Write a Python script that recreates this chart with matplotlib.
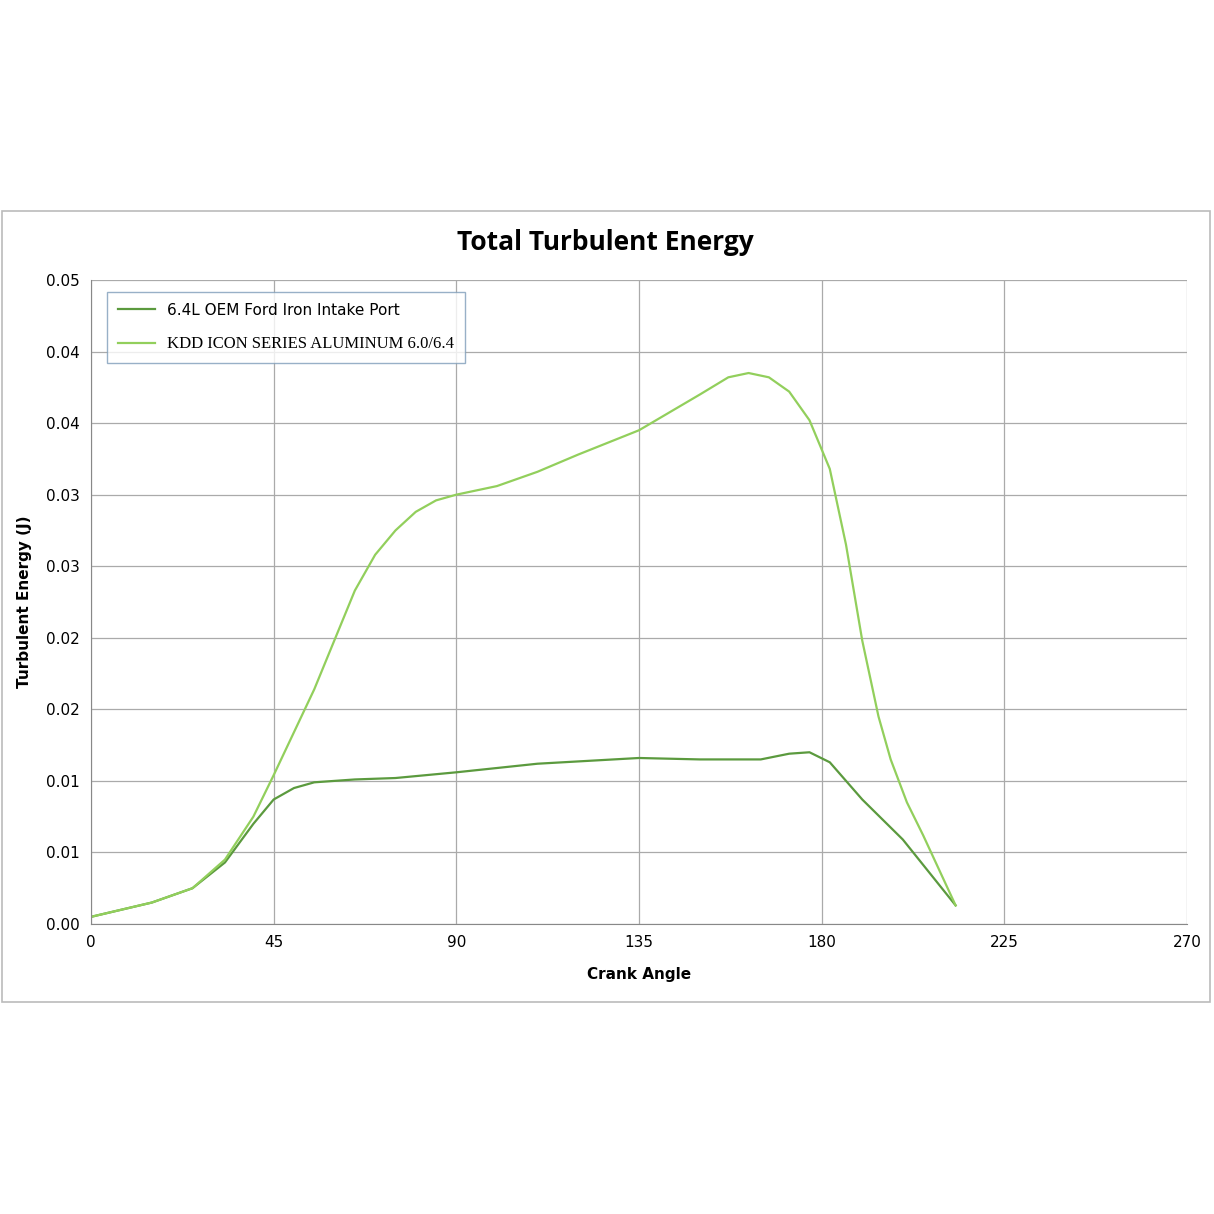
import matplotlib.pyplot as plt
from matplotlib.patches import Rectangle

# crank angle / turbulent energy
oem_x = [0, 15, 25, 33, 40, 45, 50, 55, 65, 75, 90, 110, 135, 150, 165, 172, 177, 182, 190, 200, 213]
oem_y = [0.0005, 0.0015, 0.0025, 0.0043, 0.0070, 0.0087, 0.0095, 0.0099, 0.0101, 0.0102, 0.0106,
         0.0112, 0.0116, 0.0115, 0.0115, 0.0119, 0.0120, 0.0113, 0.0087, 0.0059, 0.0013]
kdd_x = [0, 15, 25, 33, 40, 45, 55, 65, 70, 75, 80, 85, 90, 100, 110, 120, 135, 150, 157, 162,
         167, 172, 177, 182, 186, 190, 194, 197, 201, 205, 213]
kdd_y = [0.0005, 0.0015, 0.0025, 0.0045, 0.0075, 0.0104, 0.0164, 0.0233, 0.0258, 0.0275, 0.0288,
         0.0296, 0.0300, 0.0306, 0.0316, 0.0328, 0.0345, 0.0370, 0.0382, 0.0385, 0.0382, 0.0372,
         0.0352, 0.0318, 0.0265, 0.0198, 0.0145, 0.0115, 0.0085, 0.0062, 0.0013]
x_ticks = [0, 45, 90, 135, 180, 225, 270]
y_ticks = [0, 0.005, 0.01, 0.015, 0.02, 0.025, 0.03, 0.035, 0.04, 0.045]
y_labels = ["0.00", "0.01", "0.01", "0.02", "0.02", "0.03", "0.03", "0.04", "0.04", "0.05"]

fig = plt.figure(figsize=(12.14, 12.14), dpi=100)
fig.patches.append(Rectangle((2/1214, 212/1214), 1208/1214, 791/1214, transform=fig.transFigure,
                             fill=False, edgecolor="#bbbbbb", lw=1.2))
ax = fig.add_axes([91/1214, 290/1214, 1096/1214, 644/1214])

ax.plot(oem_x, oem_y, color="#5b9a3e", lw=1.6, label="6.4L OEM Ford Iron Intake Port")
ax.plot(kdd_x, kdd_y, color="#92cf5c", lw=1.6, label="KDD ICON SERIES ALUMINUM 6.0/6.4")

ax.set_xlim(0, 270)
ax.set_ylim(0, 0.045)
ax.set_xticks(x_ticks)
ax.set_yticks(y_ticks)
ax.set_yticklabels(y_labels)
ax.tick_params(length=0, labelsize=11, pad=8)
ax.grid(color="#aaaaaa", lw=0.9)
for s in ["top", "right"]:
    ax.spines[s].set_visible(False)
for s in ["left", "bottom"]:
    ax.spines[s].set_color("#888888")

ax.set_xlabel("Crank Angle", fontsize=11, fontweight="bold", labelpad=12)
ax.set_ylabel("Turbulent Energy (J)", fontsize=11, fontweight="bold", labelpad=10)
fig.text(605/1214, 1-242/1214, "Total Turbulent Energy", ha="center", va="center",
         fontsize=19, fontweight="bold", family="Open Sans")

leg = ax.legend(loc="upper left", bbox_to_anchor=(0.008, 0.993), fontsize=11, frameon=True,
                fancybox=False, edgecolor="#7f9db9", handlelength=2.4, labelspacing=1.2,
                borderpad=0.7)
leg.get_texts()[1].set_family("Liberation Serif")
leg.get_texts()[1].set_fontsize(12)

fig.savefig("out.png", dpi=100, facecolor="white")
